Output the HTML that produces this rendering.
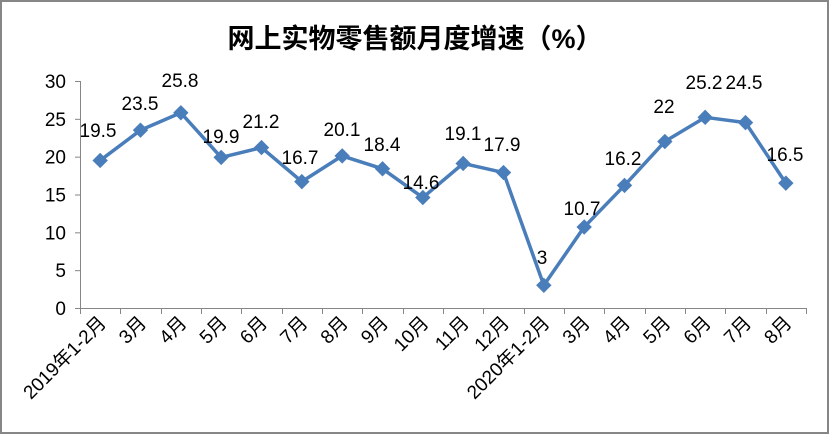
<!DOCTYPE html>
<html><head><meta charset="utf-8"><style>
html,body{margin:0;padding:0;background:#fff}
svg{display:block}
text{font-family:"Liberation Sans","Noto Sans CJK SC",sans-serif;fill:#000}
</style></head><body>
<svg width="829" height="434" viewBox="0 0 829 434" xmlns="http://www.w3.org/2000/svg">
<rect x="1" y="1" width="827" height="432" fill="#fff" stroke="#868686" stroke-width="2"/>
<text x="415" y="48" font-size="27" text-anchor="middle" font-family="'Noto Sans CJK SC',sans-serif" font-weight="bold">网上实物零售额月度增速（%）</text>
<g stroke="#868686" stroke-width="1" fill="none">
<line x1="80.5" y1="81" x2="80.5" y2="308"/>
<line x1="80" y1="308.5" x2="806" y2="308.5"/>
</g>
<g id="yt"></g><g id="xt"></g><g id="ln"></g>
<script>
var ns="http://www.w3.org/2000/svg";
function el(t,a,p,txt){var e=document.createElementNS(ns,t);for(var k in a)e.setAttribute(k,a[k]);if(txt!=null)e.textContent=txt;document.getElementById(p).appendChild(e);return e;}
var y0=308,py=(308-81)/30;
for(var v=0;v<=30;v+=5){var y=y0-v*py;el('line',{x1:75,x2:80,y1:y+.5,y2:y+.5,stroke:'#868686'},'yt');el('text',{x:66,y:y+7,'font-size':19,'text-anchor':'end'},'yt',v);}
var lab=['2019年1-2月','3月','4月','5月','6月','7月','8月','9月','10月','11月','12月','2020年1-2月','3月','4月','5月','6月','7月','8月'];
var d=[19.5,23.5,25.8,19.9,21.2,16.7,20.1,18.4,14.6,19.1,17.9,3,10.7,16.2,22,25.2,24.5,16.5];
var lp=[[98,130],[140,103],[180,80],[221,136],[261,121],[300,157],[342,129],[382,144],[421,182],[463,133],[502,144],[542,257],[582,208],[623,158],[664,106],[704,82],[744,82],[785,154]];
var dx=(806-80)/18,pts=[];
for(var i=0;i<=18;i++){var x=Math.round(80+i*dx)+.5;el('line',{x1:x,x2:x,y1:308,y2:314,stroke:'#868686'},'xt');}
for(var i=0;i<18;i++){var x=80+(i+.5)*dx;el('text',{x:0,y:0,'font-size':19,'text-anchor':'end',transform:'translate('+(x+7)+',324) rotate(-45)'},'xt',lab[i]);pts.push([x,y0-d[i]*py]);}
el('polyline',{points:pts.map(function(p){return p.join(',')}).join(' '),fill:'none',stroke:'#4a7ebb','stroke-width':3.5,'stroke-linejoin':'round'},'ln');
for(var i=0;i<18;i++){var x=pts[i][0],y=pts[i][1];el('polygon',{points:(x)+','+(y-7)+' '+(x+7)+','+y+' '+x+','+(y+7)+' '+(x-7)+','+y,fill:'#4a7ebb',stroke:'#4a7ebb'},'ln');el('text',{x:lp[i][0],y:lp[i][1]+7,'font-size':19,'text-anchor':'middle'},'ln',d[i]);}
</script>
</svg>
</body></html>
